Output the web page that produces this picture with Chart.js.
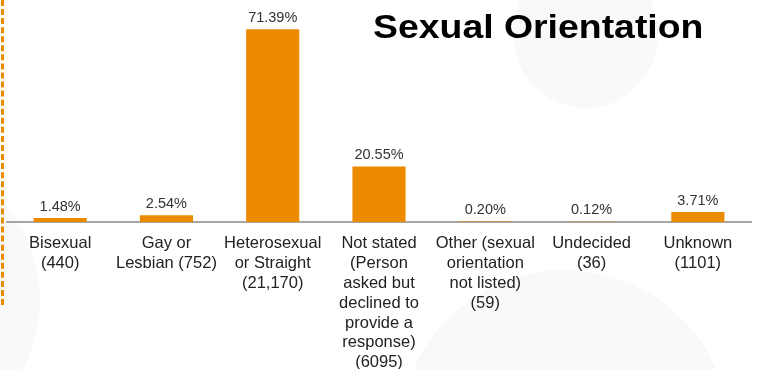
<!DOCTYPE html>
<html>
<head>
<meta charset="utf-8">
<script src="https://cdn.jsdelivr.net/npm/chart.js@4"></script>
<style>
  html, body { margin: 0; padding: 0; background: #fff; }
  #wrap { position: relative; width: 759px; height: 369px; overflow: hidden; background: #fff; }
  .bg { position: absolute; background: #f8f9fb; border-radius: 50%; }
  #edge { position: absolute; left: 1px; top: 0; width: 0; height: 305px; border-left: 3px dashed #ec8b00; }
  #title { position: absolute; left: 373px; top: 7px; font: bold 34px "Liberation Sans", Arial, sans-serif; color: #000; white-space: nowrap; transform: scaleX(1.1); transform-origin: left top; }
  canvas { position: absolute; left: 0; top: 0; }
</style>
</head>
<body>
<div id="wrap">
  <div class="bg" style="left:400px; top:270px; width:330px; height:330px;"></div>
  <div class="bg" style="left:513px; top:-40px; width:145px; height:148px;"></div>
  <div class="bg" style="left:-260px; top:150px; width:300px; height:300px;"></div>
  <div id="edge"></div>
  <canvas id="orientationChart" width="759" height="369"></canvas>
  <div id="title">Sexual Orientation</div>
</div>
<script>
const categories = [
    ['Bisexual', '(440)'],
    ['Gay or', 'Lesbian (752)'],
    ['Heterosexual', 'or Straight', '(21,170)'],
    ['Not stated', '(Person', 'asked but', 'declined to', 'provide a', 'response)', '(6095)'],
    ['Other (sexual', 'orientation', 'not listed)', '(59)'],
    ['Undecided', '(36)'],
    ['Unknown', '(1101)']
];
const percents = [1.48, 2.54, 71.39, 20.55, 0.20, 0.12, 3.71];

// writes the percentage above each bar
const valueLabels = {
    id: 'valueLabels',
    afterDatasetsDraw(chart) {
        const ctx = chart.ctx;
        const meta = chart.getDatasetMeta(0);
        ctx.save();
        ctx.font = '14.5px "Liberation Sans", Arial, sans-serif';
        ctx.fillStyle = '#333';
        ctx.textAlign = 'center';
        ctx.textBaseline = 'bottom';
        meta.data.forEach((bar, i) => {
            ctx.fillText(percents[i].toFixed(2) + '%', bar.x, bar.y - 4);
        });
        ctx.restore();
    }
};

const ctx = document.getElementById('orientationChart').getContext('2d');
const orientationChart = new Chart(ctx, {
    type: 'bar',
    data: {
        labels: categories,
        datasets: [{
            data: percents,
            backgroundColor: '#ec8b00',
            borderWidth: 0,
            barPercentage: 0.5,
            categoryPercentage: 1
        }]
    },
    options: {
        responsive: false,
        animation: false,
        layout: { padding: { left: 7, right: 8, top: 6, bottom: 0 } },
        plugins: {
            legend: { display: false },
            tooltip: { enabled: false }
        },
        scales: {
            x: {
                grid: { display: false, drawTicks: false },
                border: { display: true, color: '#a6a6a6', width: 2 },
                ticks: {
                    color: '#222',
                    padding: 12,
                    maxRotation: 0,
                    autoSkip: false,
                    font: { family: '"Liberation Sans", Arial, sans-serif', size: 16.5, lineHeight: 1.2 }
                },
                afterFit(scale) { scale.height = 147; }
            },
            y: {
                display: false,
                min: 0,
                max: 80
            }
        }
    },
    plugins: [valueLabels]
});
</script>
</body>
</html>
